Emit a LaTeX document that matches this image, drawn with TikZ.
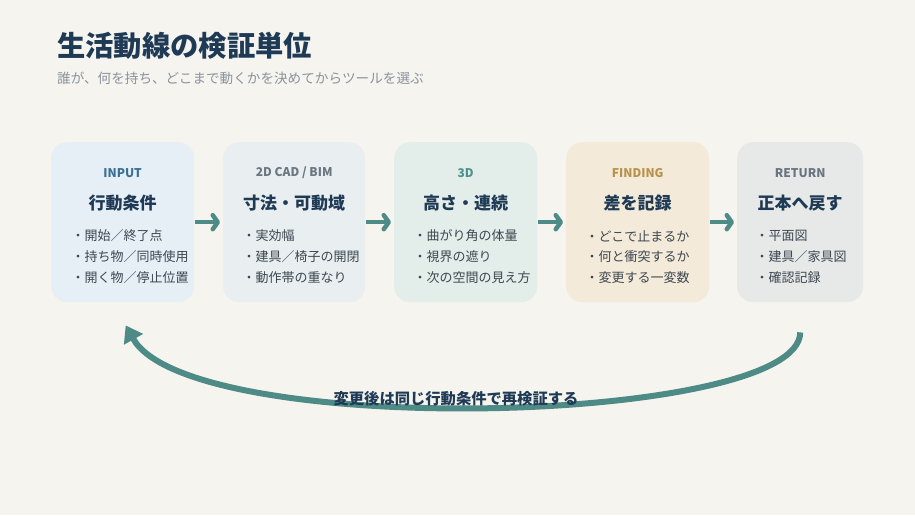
\documentclass[tikz,border=0pt]{standalone}
\usepackage{fontspec}
\setmainfont{Noto Sans CJK JP}
\usetikzlibrary{arrows.meta,calc}
\definecolor{bgc}{HTML}{F5F4EF}
\definecolor{navy}{HTML}{1F3A55}
\definecolor{subg}{HTML}{8A939C}
\definecolor{bodyc}{HTML}{3E4750}
\definecolor{teal}{HTML}{4E8B86}
\definecolor{fillA}{HTML}{E6EEF6}
\definecolor{fillB}{HTML}{E9EEF1}
\definecolor{fillC}{HTML}{E3EDE9}
\definecolor{fillD}{HTML}{F3EADA}
\definecolor{fillE}{HTML}{E7E9E9}
\definecolor{headA}{HTML}{3B6F94}
\definecolor{headB}{HTML}{6A7680}
\definecolor{headC}{HTML}{4C918A}
\definecolor{headD}{HTML}{B8924A}
\definecolor{headE}{HTML}{69747E}
\tikzset{
  stagebox/.style={draw=none, rounded corners=16pt, minimum height=160pt, inner sep=0pt, anchor=north west},
  headtxt/.style={font=\bfseries\fontsize{12}{14}\selectfont, inner sep=0pt, anchor=center},
  titletxt/.style={font=\bfseries\fontsize{17}{20}\selectfont, text=navy, inner sep=0pt, anchor=center},
  itemtxt/.style={font=\fontsize{13}{15}\selectfont, text=bodyc, inner sep=0pt, anchor=west},
  flow/.style={draw=teal, line width=4.5pt, -{Straight Barb[length=5pt,width=14pt,round]}, shorten <=1pt, shorten >=3pt},
  loop/.style={draw=teal, line width=6pt, -{Triangle[length=16pt,width=21pt]}}
}
\begin{document}
\begin{tikzpicture}[x=1pt,y=-1pt]
\fill[bgc] (0,0) rectangle (915,515);
\useasboundingbox (0,0) rectangle (915,515);

\node[inner sep=0pt, anchor=west, font=\bfseries\fontsize{28.3}{32}\selectfont, text=navy] (title) at (57,46) {生活動線の検証単位};
\node[inner sep=0pt, anchor=west, font=\fontsize{13.6}{16}\selectfont, text=subg] (sub) at (57,78) {誰が、何を持ち、どこまで動くかを決めてからツールを選ぶ};

% boxes
\node[stagebox, fill=fillA, minimum width=143pt] (b1) at (51,142) {};
\node[stagebox, fill=fillB, minimum width=142pt] (b2) at (223,142) {};
\node[stagebox, fill=fillC, minimum width=143pt] (b3) at (394,142) {};
\node[stagebox, fill=fillD, minimum width=143pt] (b4) at (566,142) {};
\node[stagebox, fill=fillE, minimum width=126pt] (b5) at (737,142) {};

% stage 1
\node[headtxt, text=headA] (h1) at ($(b1.north)+(0,31)$) {INPUT};
\node[titletxt] (t1) at ($(b1.north)+(0,61)$) {行動条件};
\node[itemtxt] (i1a) at ($(b1.north west)+(20.5,94)$) {・開始／終了点};
\node[itemtxt] (i1b) at ($(b1.north west)+(20.5,115)$) {・持ち物／同時使用};
\node[itemtxt] (i1c) at ($(b1.north west)+(20.5,136)$) {・開く物／停止位置};

% stage 2
\node[headtxt, text=headB] (h2) at ($(b2.north)+(0,31)$) {2D CAD / BIM};
\node[titletxt] (t2) at ($(b2.north)+(0,61)$) {寸法・可動域};
\node[itemtxt] (i2a) at ($(b2.north west)+(19.5,94)$) {・実効幅};
\node[itemtxt] (i2b) at ($(b2.north west)+(19.5,115)$) {・建具／椅子の開閉};
\node[itemtxt] (i2c) at ($(b2.north west)+(19.5,136)$) {・動作帯の重なり};

% stage 3
\node[headtxt, text=headC] (h3) at ($(b3.north)+(0,31)$) {3D};
\node[titletxt] (t3) at ($(b3.north)+(0,61)$) {高さ・連続};
\node[itemtxt] (i3a) at ($(b3.north west)+(19.5,94)$) {・曲がり角の体量};
\node[itemtxt] (i3b) at ($(b3.north west)+(19.5,115)$) {・視界の遮り};
\node[itemtxt] (i3c) at ($(b3.north west)+(19.5,136)$) {・次の空間の見え方};

% stage 4
\node[headtxt, text=headD] (h4) at ($(b4.north)+(0,31)$) {FINDING};
\node[titletxt] (t4) at ($(b4.north)+(0,61)$) {差を記録};
\node[itemtxt] (i4a) at ($(b4.north west)+(19.5,94)$) {・どこで止まるか};
\node[itemtxt] (i4b) at ($(b4.north west)+(19.5,115)$) {・何と衝突するか};
\node[itemtxt] (i4c) at ($(b4.north west)+(19.5,136)$) {・変更する一変数};

% stage 5
\node[headtxt, text=headE] (h5) at ($(b5.north)+(0,31)$) {RETURN};
\node[titletxt] (t5) at ($(b5.north)+(0,61)$) {正本へ戻す};
\node[itemtxt] (i5a) at ($(b5.north west)+(18.5,94)$) {・平面図};
\node[itemtxt] (i5b) at ($(b5.north west)+(18.5,115)$) {・建具／家具図};
\node[itemtxt] (i5c) at ($(b5.north west)+(18.5,136)$) {・確認記録};

% flow arrows
\draw[flow] (b1.east) -- (b2.west);
\draw[flow] (b2.east) -- (b3.west);
\draw[flow] (b3.east) -- (b4.west);
\draw[flow] (b4.east) -- (b5.west);

% loop back
\coordinate (ls) at ($(b5.south)+(0,30)$);
\coordinate (le) at ($(b1.south)+(3,23)$);
\draw[loop] (ls) .. controls (800,425) and (190,440) .. (le);
\node[inner sep=0pt, font=\bfseries\fontsize{15.3}{18}\selectfont, text=navy] (looplabel) at (456,399) {変更後は同じ行動条件で再検証する};
\end{tikzpicture}
\end{document}
